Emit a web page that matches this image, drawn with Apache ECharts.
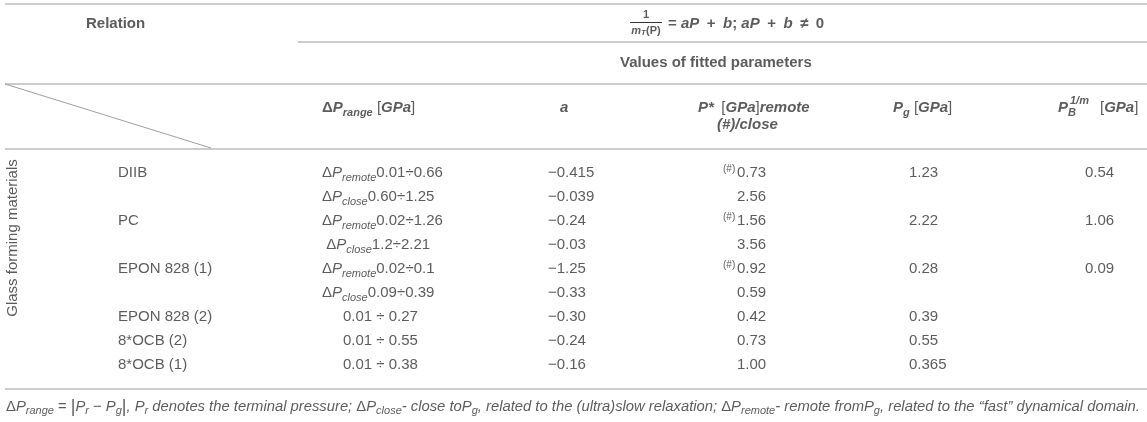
<!DOCTYPE html>
<html>
<head>
<meta charset="utf-8">
<script src="https://cdn.jsdelivr.net/npm/echarts@6/dist/echarts.min.js"></script>
<style>
  html, body { margin: 0; padding: 0; background: #ffffff; }
  #chart { width: 1147px; height: 422px; }
</style>
</head>
<body>
<div id="chart"></div>
<script>
// ---------------- DATA ----------------
const relationTitle = 'Relation';
const groupTitle = 'Glass forming materials';
const fittedTitle = 'Values of fitted parameters';
const materials = ['DIIB', '', 'PC', '', 'EPON 828 (1)', '', 'EPON 828 (2)', '8*OCB (2)', '8*OCB (1)'];
const rangeKind = ['remote', 'close', 'remote', 'close', 'remote', 'close', '', '', ''];
const rangeValues = ['0.01÷0.66', '0.60÷1.25', '0.02÷1.26', '1.2÷2.21', '0.02÷0.1', '0.09÷0.39', '0.01 ÷ 0.27', '0.01 ÷ 0.55', '0.01 ÷ 0.38'];
const aValues = ['−0.415', '−0.039', '−0.24', '−0.03', '−1.25', '−0.33', '−0.30', '−0.24', '−0.16'];
const pStarRemote = [true, false, true, false, true, false, false, false, false];
const pStarValues = ['0.73', '2.56', '1.56', '3.56', '0.92', '0.59', '0.42', '0.73', '1.00'];
const pgValues = ['1.23', '', '2.22', '', '0.28', '', '0.39', '0.55', '0.365'];
const pbValues = ['0.54', '', '1.06', '', '0.09', '', '', '', ''];

// ---------------- LAYOUT (positions/styles) ----------------
const W = 1147, H = 422;
const FONT = "'Liberation Sans', Arial, Helvetica, sans-serif";
const INK = '#333333';
const RULE = '#bdbdbd';
const L = {
  colMat: 118, colRange: 322, colRangeSimple: 343, colAHead: 560, colA: 548,
  colPHead: 698, colPHead2: 717, colPSup: 723, colP: 737,
  colPgHead: 893, colPg: 909, colPbHead: 1058, colPbSup: 1070, colPbUnit: 1100, colPb: 1085,
  rowTop: 173, rowStep: 24,
  yTitle: 24, yFitted: 63, yHead: 108, yHead2: 125,
  rules: [[5, 1147, 4], [298, 1147, 42], [5, 1147, 84], [5, 1147, 149], [5, 1147, 389]],
  diag: [[5, 84], [211, 148]],
  frac: { x: 646, yNum: 15, yBar: 22, yDen: 31, x1: 630, x2: 662 },
  formulaX: 668, formulaY: 24, fittedX: 620, relationX: 86,
  groupX: 13, groupY: 238,
  footX: 6, footY: 407
};

function st(o) { return Object.assign({ fontFamily: FONT, color: INK, fontSize: 15, lineHeight: 20, verticalAlign: 'middle' }, o); }
const rich = {
  n: st({}),
  i: st({ fontStyle: 'italic' }),
  b: st({ fontWeight: 'bold' }),
  bi: st({ fontWeight: 'bold', fontStyle: 'italic' }),
  sub: st({ fontStyle: 'italic', fontSize: 11, lineHeight: 11, verticalAlign: 'bottom' }),
  bsub: st({ fontWeight: 'bold', fontStyle: 'italic', fontSize: 11, lineHeight: 11, verticalAlign: 'bottom' }),
  sup: st({ fontSize: 10, lineHeight: 10, verticalAlign: 'top' }),
  bsm: st({ fontWeight: 'bold', fontSize: 11, lineHeight: 12 }),
  bism: st({ fontWeight: 'bold', fontStyle: 'italic', fontSize: 11, lineHeight: 12 }),
  bismsub: st({ fontWeight: 'bold', fontStyle: 'italic', fontSize: 8, lineHeight: 8, verticalAlign: 'bottom' }),
  fn: st({ fontSize: 14.8, lineHeight: 19 }),
  fi: st({ fontSize: 14.8, lineHeight: 19, fontStyle: 'italic' }),
  fsub: st({ fontSize: 11, lineHeight: 11, fontStyle: 'italic', verticalAlign: 'bottom' }),
  fbar: st({ fontSize: 18, lineHeight: 19 })
};

// ---------------- BUILD ----------------
const texts = [];
function put(x, y, formatter, extra) {
  texts.push({ value: [x, y], label: Object.assign({ formatter: formatter }, extra || {}) });
}
const centered = { position: 'inside', align: 'center', verticalAlign: 'middle' };
const SP = '\u2002';

put(L.relationX, L.yTitle, '{b|' + relationTitle + '}');
put(L.frac.x, L.frac.yNum, '{bsm|1}', centered);
put(L.frac.x, L.frac.yDen, '{bism|m}{bismsub|T}{bsm|(P)}', centered);
put(L.formulaX, L.formulaY, '{b|= }{bi|aP}{b|' + SP + '+' + SP + '}{bi|b}{b|; }{bi|aP}{b|' + SP + '+' + SP + '}{bi|b}{b|' + SP + '≠' + SP + '0}');
put(L.fittedX, L.yFitted, '{b|' + fittedTitle + '}');

// header row
put(L.colRange, L.yHead, '{b|Δ}{bi|P}{bsub|range}{n| [}{bi|GPa}{n|]}');
put(L.colAHead, L.yHead, '{bi|a}');
put(L.colPHead, L.yHead, '{bi|P*' + SP + '}{n|[}{bi|GPa}{n|]}{bi|remote}');
put(L.colPHead2, L.yHead2, '{bi|(#)/close}');
put(L.colPgHead, L.yHead, '{bi|P}{bsub|g}{n| [}{bi|GPa}{n|]}');
put(L.colPbHead, L.yHead, '{bi|P}{bsub|B}');
put(L.colPbSup, L.yHead - 7, '{bism|1/m}');
put(L.colPbUnit, L.yHead, '{n|[}{bi|GPa}{n|]}');

// group label (rotated)
texts.push({ value: [L.groupX, L.groupY], label: Object.assign({ formatter: '{n|' + groupTitle + '}', rotate: 90 }, centered) });

// body rows
materials.forEach(function (m, r) {
  const y = L.rowTop + r * L.rowStep;
  if (m) put(L.colMat, y, '{n|' + m + '}');
  if (rangeKind[r]) {
    const lead = (r === 3) ? ' ' : '';
    put(L.colRange, y, '{n|' + lead + 'Δ}{i|P}{sub|' + rangeKind[r] + '}{n|' + rangeValues[r] + '}');
  } else {
    put(L.colRangeSimple, y, '{n|' + rangeValues[r] + '}');
  }
  put(L.colA, y, '{n|' + aValues[r] + '}');
  if (pStarRemote[r]) put(L.colPSup, y - 4, '{sup|(#)}');
  put(L.colP, y, '{n|' + pStarValues[r] + '}');
  if (pgValues[r]) put(L.colPg, y, '{n|' + pgValues[r] + '}');
  if (pbValues[r]) put(L.colPb, y, '{n|' + pbValues[r] + '}');
});

// footnote
put(L.footX, L.footY,
  '{fn|Δ}{fi|P}{fsub|range}{fn| = }{fbar||}{fi|P}{fsub|r}{fn| − }{fi|P}{fsub|g}{fbar||}{fi|, P}{fsub|r}' +
  '{fi| denotes the terminal pressure; }{fn|Δ}{fi|P}{fsub|close}{fi|- close to}{fi|P}{fsub|g}' +
  '{fi|, related to the (ultra)slow relaxation; }{fn|Δ}{fi|P}{fsub|remote}{fi|- remote from}{fi|P}{fsub|g}' +
  '{fi|, related to the “fast” dynamical domain.}');

const ruleData = L.rules.map(function (r) { return { coords: [[r[0], r[2]], [r[1], r[2]]], lineStyle: { color: RULE, width: 1.6 } }; });
ruleData.push({ coords: L.diag, lineStyle: { color: '#a0a0a0', width: 1 } });
ruleData.push({ coords: [[L.frac.x1, L.frac.yBar], [L.frac.x2, L.frac.yBar]], lineStyle: { color: INK, width: 1 } });

const chart = echarts.init(document.getElementById('chart'), null, { renderer: 'canvas', width: W, height: H });
chart.setOption({
  animation: false,
  backgroundColor: '#ffffff',
  grid: { left: 0, right: 0, top: 0, bottom: 0 },
  xAxis: { type: 'value', min: 0, max: W, show: false },
  yAxis: { type: 'value', min: 0, max: H, inverse: true, show: false },
  series: [
    {
      type: 'lines', coordinateSystem: 'cartesian2d', silent: true,
      data: ruleData, lineStyle: { opacity: 1 }
    },
    {
      type: 'scatter', symbolSize: 0, silent: true,
      data: texts,
      label: {
        show: true, position: 'right', distance: 0,
        fontFamily: FONT, color: INK, fontSize: 15, rich: rich
      }
    }
  ]
});
</script>
</body>
</html>
